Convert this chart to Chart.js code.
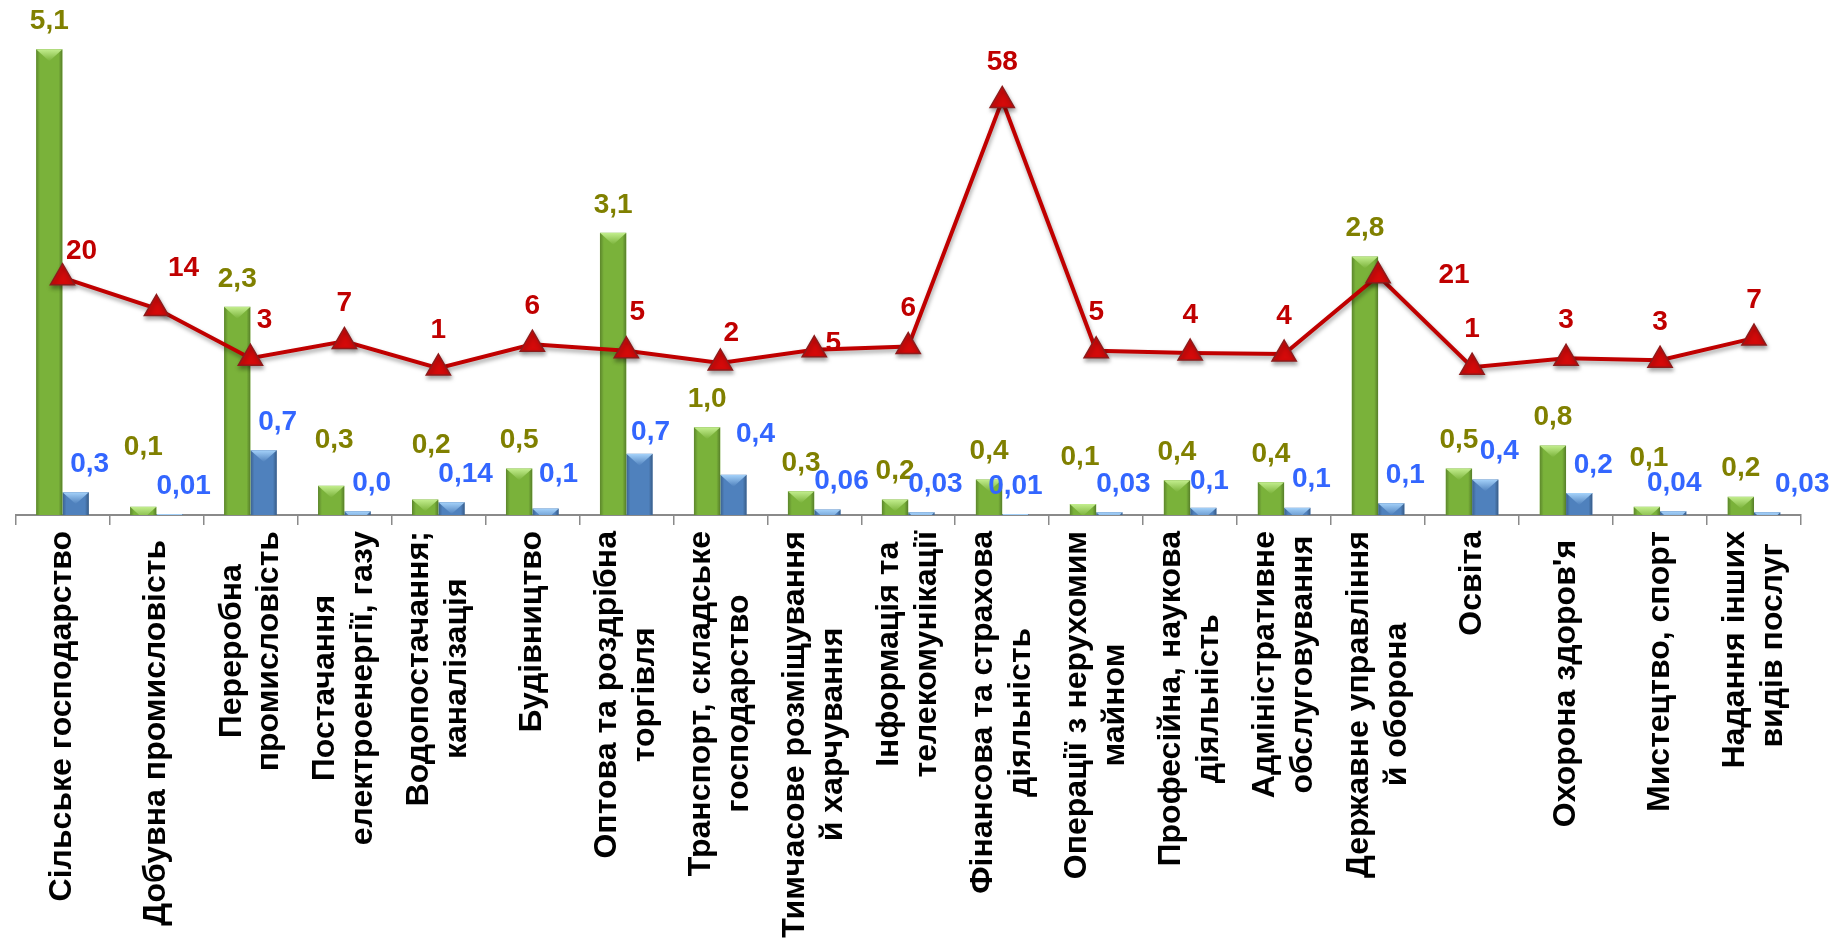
<!DOCTYPE html>
<html lang="uk">
<head>
<meta charset="utf-8">
<title>Структура за видами діяльності</title>
<script src="https://cdn.jsdelivr.net/npm/chart.js@4.4.1/dist/chart.umd.min.js"></script>
<style>
  html, body { margin: 0; padding: 0; background: #fff; }
  #wrap { width: 1842px; height: 941px; }
</style>
</head>
<body>
<div id="wrap"><canvas id="chart" width="1842" height="941"></canvas></div>
<script>
// categories (multi-line labels are kept as arrays of lines)
const categories = [
  ['Сільське господарство'],
  ['Добувна промисловість '],
  ['Переробна', 'промисловість'],
  ['Постачання', 'електроенергії, газу'],
  ['Водопостачання;', 'каналізація'],
  ['Будівництво'],
  ['Оптова та роздрібна', 'торгівля'],
  ['Транспорт, складське', 'господарство'],
  ['Тимчасове розміщування', 'й харчування'],
  ['Інформація та', 'телекомунікації'],
  ['Фінансова та страхова', 'діяльність'],
  ['Операції з нерухомим', 'майном'],
  ['Професійна, наукова', 'діяльність'],
  ['Адміністративне', 'обслуговування'],
  ['Державне управління', 'й оборона'],
  ['Освіта'],
  ["Охорона здоров'я "],
  ['Мистецтво, спорт'],
  ['Надання інших', ' видів послуг']
];

// green bars (left axis)
const greenValues = [5.1, 0.09, 2.28, 0.32, 0.17, 0.51, 3.09, 0.96, 0.26, 0.17,
                     0.39, 0.12, 0.38, 0.36, 2.83, 0.51, 0.76, 0.09, 0.2];

// blue bars (left axis) and how many decimals their labels show
const blueValues = [0.25, 0.01, 0.71, 0.04, 0.14, 0.07, 0.67, 0.44, 0.06, 0.03,
                    0.01, 0.03, 0.08, 0.08, 0.13, 0.39, 0.24, 0.04, 0.03];
const blueDecimals = [1, 2, 1, 1, 2, 1, 1, 1, 2, 2, 2, 2, 1, 1, 1, 1, 1, 2, 2];

// red line (right axis, hidden)
const lineValues = [20.2, 13.6, 3.0, 6.6, 0.9, 6.0, 4.6, 2.0, 4.8, 5.5,
                    58, 4.6, 4.1, 3.9, 20.6, 1.1, 3.0, 2.6, 7.3];

const FONT = '"Liberation Sans", Arial, sans-serif';

const fmt = (v, d) => v.toFixed(d).replace('.', ',');

// label placement: default offset from the bar top / point, plus hand moved ones
const labelSets = [
  { dataset: 0, color: '#808000', offset: [0, -28],
    text: i => fmt(greenValues[i], 1),
    nudge: { 1: [0, -32], 3: [3, -17], 4: [6, -26], 11: [-3, -19], 17: [2, -21] } },
  { dataset: 1, color: '#3366FF', offset: [14, -28],
    text: i => fmt(blueValues[i], blueDecimals[i]),
    nudge: { 5: [-1, -6], 6: [-3, 6], 7: [8, -13], 10: [-14, 0], 12: [-8, 2], 17: [-13, 0], 18: [21, 0] } },
  { dataset: 2, color: '#C00000', offset: [0, -38],
    text: i => String(Math.round(lineValues[i])),
    nudge: { 0: [19, 12], 1: [27, -2], 2: [14, 0], 6: [11, 0], 7: [11, 8], 8: [19, 31], 14: [76, 38] } }
];

const barLook = {
  0: { hi: '#C3EE8E', mid: '#7AB23A' },
  1: { hi: '#A5D2FA', mid: '#4F81BD' }
};

// bevel-like shading on top of each bar
const bevelPlugin = {
  id: 'bevel',
  afterDatasetDraw(chart, args) {
    const meta = args.meta;
    if (meta.type !== 'bar') return;
    const look = barLook[args.index];
    const ctx = chart.ctx;
    meta.data.forEach(bar => {
      const { x, y, base, width } = bar.getProps(['x', 'y', 'base', 'width'], true);
      const left = x - width / 2, right = x + width / 2, h = base - y;
      if (h <= 0.5) return;
      ctx.save();
      ctx.beginPath();
      ctx.rect(left, y, width, h);
      ctx.clip();
      const g = ctx.createLinearGradient(left, 0, right, 0);
      g.addColorStop(0, 'rgba(0,0,0,0.25)');
      g.addColorStop(0.15, 'rgba(0,0,0,0)');
      g.addColorStop(0.85, 'rgba(0,0,0,0)');
      g.addColorStop(1, 'rgba(0,0,0,0.3)');
      ctx.fillStyle = g;
      ctx.fillRect(left, y, width, h);
      const d = width * 0.45;
      const tg = ctx.createLinearGradient(0, y, 0, y + d);
      tg.addColorStop(0, look.hi);
      tg.addColorStop(1, look.mid);
      ctx.fillStyle = tg;
      ctx.beginPath();
      ctx.moveTo(left, y);
      ctx.lineTo(right, y);
      ctx.lineTo(x, y + d);
      ctx.closePath();
      ctx.fill();
      ctx.restore();
    });
  }
};

// soft shadow under the line and its markers
const shadowPlugin = {
  id: 'lineShadow',
  beforeDatasetDraw(chart, args) {
    if (args.meta.type !== 'line') return;
    const ctx = chart.ctx;
    ctx.save();
    ctx.shadowColor = 'rgba(0,0,0,0.35)';
    ctx.shadowBlur = 4;
    ctx.shadowOffsetX = 1;
    ctx.shadowOffsetY = 3;
  },
  afterDatasetDraw(chart, args) {
    if (args.meta.type !== 'line') return;
    chart.ctx.restore();
  }
};

// value labels
const labelPlugin = {
  id: 'valueLabels',
  afterDatasetsDraw(chart) {
    const ctx = chart.ctx;
    ctx.save();
    ctx.font = 'bold 28px ' + FONT;
    ctx.textAlign = 'center';
    ctx.textBaseline = 'middle';
    labelSets.forEach(set => {
      const meta = chart.getDatasetMeta(set.dataset);
      ctx.fillStyle = set.color;
      meta.data.forEach((el, i) => {
        const n = set.nudge[i] || [0, 0];
        ctx.fillText(set.text(i), el.x + set.offset[0] + n[0], el.y + set.offset[1] + n[1]);
      });
    });
    ctx.restore();
  }
};

// rotated category names, lines centred inside each block
const axisLabelPlugin = {
  id: 'axisLabels',
  afterDraw(chart) {
    const ctx = chart.ctx;
    const xs = chart.scales.x;
    const lineH = 37.5;
    ctx.save();
    ctx.font = 'bold 32px ' + FONT;
    ctx.fillStyle = '#000';
    ctx.textAlign = 'center';
    ctx.textBaseline = 'middle';
    categories.forEach((lines, i) => {
      const x = xs.getPixelForTick(i);
      const blockW = Math.max(...lines.map(t => ctx.measureText(t).width));
      ctx.save();
      ctx.translate(x, xs.top + 16);
      ctx.rotate(-Math.PI / 2);
      lines.forEach((t, k) => {
        ctx.fillText(t, -blockW / 2, (k - (lines.length - 1) / 2) * lineH);
      });
      ctx.restore();
    });
    ctx.restore();
  }
};

new Chart(document.getElementById('chart'), {
  type: 'bar',
  data: {
    labels: categories,
    datasets: [
      {
        data: greenValues,
        backgroundColor: '#7AB23A',
        yAxisID: 'y',
        order: 2,
        categoryPercentage: 0.5616,
        barPercentage: 1
      },
      {
        data: blueValues,
        backgroundColor: '#4F81BD',
        yAxisID: 'y',
        order: 2,
        categoryPercentage: 0.5616,
        barPercentage: 1
      },
      {
        type: 'line',
        data: lineValues,
        yAxisID: 'y2',
        order: 0,
        borderColor: '#C00000',
        borderWidth: 4,
        tension: 0,
        pointStyle: 'triangle',
        pointRadius: 14,
        pointBackgroundColor: '#D40A0A',
        pointBorderColor: '#8E1B1B',
        pointBorderWidth: 1.5,
        clip: false
      }
    ]
  },
  options: {
    responsive: false,
    animation: false,
    devicePixelRatio: 1,
    layout: { padding: { left: 8, right: 41, top: 15, bottom: 0 } },
    plugins: {
      legend: { display: false },
      tooltip: { enabled: false }
    },
    scales: {
      x: {
        offset: true,
        grid: {
          display: true,
          offset: true,
          drawOnChartArea: false,
          drawTicks: true,
          tickLength: 10,
          color: '#8A8A8A',
          lineWidth: 1.5
        },
        border: { display: true, color: '#8A8A8A', width: 2 },
        ticks: { display: false },
        afterFit: scale => { scale.height = 426; }
      },
      y: { display: false, min: 0, max: 5.47 },
      y2: { display: false, position: 'right', min: -30.43, max: 76.11 }
    }
  },
  plugins: [bevelPlugin, shadowPlugin, labelPlugin, axisLabelPlugin]
});
</script>
</body>
</html>
